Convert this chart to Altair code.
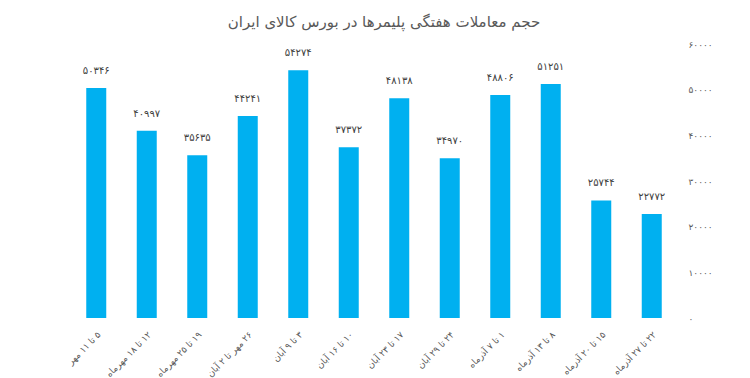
import altair as alt
import pandas as pd

weeks = [
    "۵ تا ۱۱ مهر",
    "۱۲ تا ۱۸ مهرماه",
    "۱۹ تا ۲۵ مهرماه",
    "۲۶ مهر تا ۲ آبان",
    "۳ تا ۹ آبان",
    "۱۰ تا ۱۶ آبان",
    "۱۷ تا ۲۳ آبان",
    "۲۴ تا ۲۹ آبان",
    "۱ تا ۷ آذرماه",
    "۸ تا ۱۳ آذرماه",
    "۱۵ تا ۲۰ آذرماه",
    "۲۲ تا ۲۷ آذرماه",
]
volumes = [50346, 40997, 35635, 44241, 54274, 37372, 48138, 34970, 48806, 51251, 25744, 22772]
y_ticks = [0, 10000, 20000, 30000, 40000, 50000, 60000]

title_text = "حجم معاملات هفتگی پلیمرها در بورس کالای ایران"

fa = str.maketrans("0123456789", "۰۱۲۳۴۵۶۷۸۹")
RLE, PDF = "\u202B", "\u202C"

df = pd.DataFrame({
    "week": [RLE + w + PDF for w in weeks],
    "volume": volumes,
    "label": [str(v).translate(fa) for v in volumes],
})
order = list(df["week"])

expr = "format(datum.value, 'd')"
for d, p in zip("0123456789", "۰۱۲۳۴۵۶۷۸۹"):
    expr = f"replace({expr}, regexp('{d}', 'g'), '{p}')"

FONT = "DejaVu Sans"

base = alt.Chart(df).encode(
    x=alt.X(
        "week:N",
        sort=order,
        scale=alt.Scale(paddingInner=0.6, paddingOuter=0.3),
        axis=alt.Axis(
            title=None, labelAngle=-45, labelFontSize=9, labelColor="#595959",
            ticks=False, domain=False, labelPadding=12, labelFont=FONT,
        ),
    ),
    y=alt.Y(
        "volume:Q",
        scale=alt.Scale(domain=[0, 60000], nice=False),
        axis=alt.Axis(
            orient="right", values=y_ticks, title=None, ticks=False, domain=False,
            grid=False, labelAlign="left", labelPadding=11, labelExpr=expr,
            labelFontSize=9, labelColor="#595959", labelFont=FONT,
        ),
    ),
)

bars = base.mark_bar(color="#00B0F0", size=20)
text = base.mark_text(dy=-17, baseline="middle", fontSize=10, color="#404040", font=FONT).encode(
    text="label:N"
)

chart = (
    (bars + text)
    .properties(
        width=606,
        height=274,
        title=alt.Title(title_text, fontSize=15, fontWeight="normal", color="#595959",
                        font=FONT, offset=10, dx=10),
        padding={"left": 71, "top": 44, "right": 73, "bottom": 60},
        autosize="none",
        background="white",
    )
    .configure_view(strokeWidth=0)
)

chart.save("out.html", embed_options={"renderer": "svg", "actions": False})
